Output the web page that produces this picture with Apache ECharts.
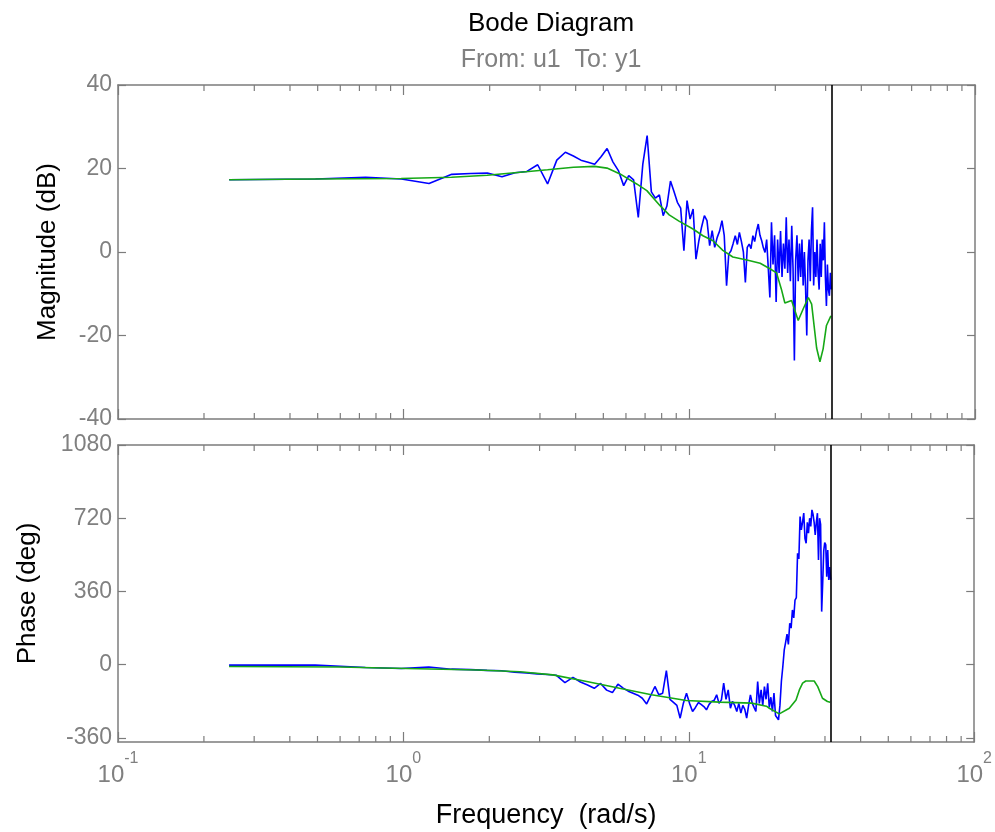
<!DOCTYPE html>
<html>
<head>
<meta charset="utf-8">
<script src="https://cdn.jsdelivr.net/npm/echarts@6/dist/echarts.min.js"></script>
<style>
html,body{margin:0;padding:0;background:#fff;}
#chart{width:995px;height:832px;}
</style>
</head>
<body>
<div id="chart"></div>
<script>
// ---- data ----
const freqEst = [
0.245,0.491,0.736,0.982,1.227,1.473,1.718,1.963,2.209,2.454,
2.700,2.945,3.190,3.436,3.681,3.927,4.172,4.418,4.663,4.909,
5.154,5.400,5.645,5.890,6.136,6.381,6.627,6.872,7.117,7.363,
7.608,7.854,8.099,8.345,8.590,8.836,9.081,9.326,9.572,9.817,
10.06,10.31,10.55,10.80,11.04,11.29,11.53,11.78,12.02,12.27,
12.52,12.76,13.01,13.25,13.50,13.74,13.99,14.23,14.48,14.73,
14.97,15.22,15.46,15.71,15.95,16.20,16.44,16.69,16.93,17.18,
17.43,17.67,17.92,18.16,18.41,18.65,18.90,19.14,19.39,19.63,
19.88,20.13,20.37,20.62,20.86,21.11,21.35,21.60,21.84,22.09,
22.33,22.58,22.83,23.07,23.32,23.56,23.81,24.05,24.30,24.54,
24.79,25.03,25.28,25.53,25.77,26.02,26.26,26.51,26.75,27.00,
27.24,27.49,27.73,27.98,28.23,28.47,28.72,28.96,29.21,29.45,
29.70,29.94,30.19,30.43,30.68,30.93,31.17,31.42];

const magEst = [
17.3,17.5,17.9,17.5,16.4,18.6,18.8,18.9,18.0,19.0,
19.3,20.9,16.3,22.0,23.9,23.0,22.0,21.5,21.0,22.8,
24.8,21.6,19.5,15.9,18.3,17.3,8.3,21.0,27.9,14.4,
12.9,13.7,8.7,11.0,17.0,14.5,11.9,10.5,0.3,12.3,
7.9,10.3,-1.7,2.7,6.0,8.7,7.5,1.5,5.1,1.1,
3.5,5.0,7.5,3.9,-8.1,-0.5,0.3,2.0,3.9,1.8,
4.7,2.5,0.0,-7.3,1.1,1.9,0.8,3.9,2.5,5.0,
6.7,4.0,2.7,1.0,-0.1,3.0,-4.0,-10.9,7.1,-3.0,
4.0,-12.0,3.0,-5.0,5.0,-6.0,2.0,-4.0,8.3,-5.0,
3.0,-7.0,6.3,-4.0,-26.0,-2.0,4.0,-7.0,2.0,-6.0,
3.0,-8.0,0.0,-9.0,-20.0,-2.0,3.0,-7.0,5.0,10.7,
-8.0,0.0,-6.0,3.0,-5.0,-9.0,2.0,-6.0,3.0,-2.0,
7.1,-6.0,-12.9,-3.0,-9.0,-10.5,-5.0,-9.0];

const phaseEst = [
-2,-2,-14,-19,-11,-22,-24,-28,-30,-37,
-40,-45,-48,-52,-88,-62,-85,-100,-116,-92,
-125,-137,-96,-115,-130,-140,-150,-165,-193,-150,
-107,-148,-140,-29,-170,-185,-200,-263,-189,-140,
-190,-230,-210,-186,-195,-206,-222,-195,-181,-175,
-148,-190,-173,-91,-170,-124,-214,-180,-200,-230,
-190,-238,-200,-220,-263,-200,-148,-190,-210,-230,
-83,-190,-124,-200,-108,-170,-91,-210,-160,-230,
-140,-250,-255,-271,-200,-80,-10,73,110,150,
100,204,180,269,230,318,330,548,520,728,
663,700,745,620,597,700,646,720,680,761,
740,700,638,700,745,515,720,690,261,400,
560,600,589,433,564,417,480,417];

const freqModelMag = [0.245,0.49,0.98,1.47,1.96,2.45,3.19,3.93,4.66,5.15,
5.72,6.54,7.1,7.9,8.5,9.2,10.3,11.16,12.1,13.1,
14.2,15.9,17.7,19.15,20.2,21.0,21.6,22.8,24.05,25.05,
26.1,26.8,27.9,28.65,29.4,30.2,31.3];
const magModel = [17.3,17.5,17.6,17.9,18.4,19.0,19.7,20.3,20.5,20.1,
18.7,16.3,14.7,11.1,8.9,7.4,5.5,3.9,2.7,0.4,
-1.2,-1.9,-2.7,-4.0,-5.0,-8.9,-12.2,-11.6,-16.4,-13.6,
-10.9,-12.5,-23.0,-26.3,-23.2,-17.6,-15.3];

const freqModelPhase = [0.245,0.6,0.85,1.82,2.56,3.34,4.39,5.72,7.4,9.8,
12.8,16.6,18.7,19.15,20.75,22.5,23.75,24.4,25.05,25.7,
27.5,28.3,29.4,30.6,31.3];
const phaseModel = [-9,-11,-16,-26,-35,-50,-83,-116,-148,-176,
-184,-189,-204,-214,-242,-214,-173,-124,-91,-80,
-80,-108,-165,-181,-185];

const nyquistFreq = 31.42;
const magTicks = [-40,-20,0,20,40];
const phaseTicks = [-360,0,360,720,1080];
const decadeTicks = [0.1,1,10,100];
const minorTicks = [0.2,0.3,0.4,0.5,0.6,0.7,0.8,0.9,2,3,4,5,6,7,8,9,20,30,40,50,60,70,80,90];

// ---- styles ----
const axisColor = '#7c7c7c';
const labelColor = '#808080';
const fontFam = 'Liberation Sans, Arial, Helvetica, sans-serif';
const magRange = [-40, 40];
const phaseRange = [-380, 1080];

function pairs(xs, ys){ return xs.map((x,i)=>[x, ys[i]]); }

function xAxisDef(gridIndex, position, showLabels){
  const a = {
    type:'log', logBase:10, gridIndex, position, min:0.1, max:100,
    axisLine:{show:true, onZero:false, lineStyle:{color:axisColor, width:1.5}},
    axisTick:{show:true, inside:true, length:10, customValues:decadeTicks, lineStyle:{color:axisColor, width:1.2}},
    splitLine:{show:false}, minorTick:{show:false}, minorSplitLine:{show:false},
    axisLabel:{show:false}
  };
  if (showLabels){
    a.axisLabel = {
      show:true, margin:9, showMinLabel:true, showMaxLabel:true, customValues:decadeTicks,
      formatter:function(v){ const e = Math.round(Math.log10(v)); return '{b|10}{s|' + e + '}'; },
      rich:{
        b:{fontSize:24, color:labelColor, fontFamily:fontFam, lineHeight:36, verticalAlign:'bottom'},
        s:{fontSize:16, color:labelColor, fontFamily:fontFam, lineHeight:16, verticalAlign:'top'}
      }
    };
    a.name = 'Frequency  (rad/s)';
    a.nameLocation = 'middle';
    a.nameGap = 60;
    a.nameTextStyle = {fontSize:27, color:'#000', fontFamily:fontFam};
  }
  return a;
}

function yAxisDef(gridIndex, position, range, ticks, name, nameGap){
  const a = {
    type:'value', gridIndex, position, min:range[0], max:range[1],
    axisLine:{show:true, onZero:false, lineStyle:{color:axisColor, width:1.5}},
    axisTick:{show:true, inside:true, length:8, customValues:ticks, lineStyle:{color:axisColor, width:1.2}},
    splitLine:{show:false},
    axisLabel:{show:false}
  };
  if (name){
    a.axisLabel = {show:true, customValues:ticks, margin:6, fontSize:23, color:labelColor, fontFamily:fontFam,
      formatter:function(v){ return String(v); }};
    a.name = name;
    a.nameLocation = 'middle';
    a.nameGap = nameGap;
    a.nameTextStyle = {fontSize:26, color:'#000', fontFamily:fontFam};
  }
  return a;
}

function minorTickSeries(xi, yi, range){
  return {
    type:'custom', xAxisIndex:xi, yAxisIndex:yi, silent:true, clip:false, z:5,
    data: minorTicks.map(v=>[v, range[0]]),
    renderItem:function(params, api){
      const v = api.value(0);
      const b = api.coord([v, range[0]]);
      const t = api.coord([v, range[1]]);
      return {type:'group', children:[
        {type:'line', shape:{x1:b[0], y1:b[1], x2:b[0], y2:b[1]-6}, style:{stroke:axisColor, lineWidth:1.2}},
        {type:'line', shape:{x1:t[0], y1:t[1], x2:t[0], y2:t[1]+6}, style:{stroke:axisColor, lineWidth:1.2}}
      ]};
    }
  };
}

const nyqLine = {
  silent:true, symbol:['none','none'], animation:false,
  label:{show:false},
  lineStyle:{color:'#000', width:1.6, type:'solid'},
  data:[{xAxis:nyquistFreq}]
};

const chart = echarts.init(document.getElementById('chart'), null, {renderer:'canvas'});
chart.setOption({
  animation:false,
  backgroundColor:'#fff',
  title:[
    {text:'Bode Diagram', left:546, top:6, textAlign:'center',
     textStyle:{fontSize:26, fontWeight:'normal', color:'#000', fontFamily:fontFam}},
    {text:'From: u1  To: y1', left:546, top:43, textAlign:'center',
     textStyle:{fontSize:25, fontWeight:'normal', color:labelColor, fontFamily:fontFam}}
  ],
  grid:[
    {left:118, top:85, width:857, height:334},
    {left:118, top:445, width:857, height:297}
  ],
  xAxis:[
    xAxisDef(0,'bottom',false),
    xAxisDef(0,'top',false),
    xAxisDef(1,'bottom',true),
    xAxisDef(1,'top',false)
  ],
  yAxis:[
    yAxisDef(0,'left',magRange,magTicks,'Magnitude (dB)',57),
    yAxisDef(0,'right',magRange,magTicks,null),
    yAxisDef(1,'left',phaseRange,phaseTicks,'Phase (deg)',77),
    yAxisDef(1,'right',phaseRange,phaseTicks,null)
  ],
  series:[
    {type:'line', name:'est mag', xAxisIndex:0, yAxisIndex:0, data:pairs(freqEst, magEst),
     showSymbol:false, symbol:'none', lineStyle:{color:'#0000ff', width:1.6}, z:2, markLine:nyqLine},
    {type:'line', name:'model mag', xAxisIndex:0, yAxisIndex:0, data:pairs(freqModelMag, magModel),
     showSymbol:false, symbol:'none', lineStyle:{color:'#16a816', width:1.6}, z:3},
    {type:'line', name:'est phase', xAxisIndex:2, yAxisIndex:2, data:pairs(freqEst, phaseEst),
     showSymbol:false, symbol:'none', lineStyle:{color:'#0000ff', width:1.6}, z:2, markLine:nyqLine},
    {type:'line', name:'model phase', xAxisIndex:2, yAxisIndex:2, data:pairs(freqModelPhase, phaseModel),
     showSymbol:false, symbol:'none', lineStyle:{color:'#16a816', width:1.6}, z:3},
    minorTickSeries(0,0,magRange),
    minorTickSeries(2,2,phaseRange)
  ]
});
</script>
</body>
</html>
